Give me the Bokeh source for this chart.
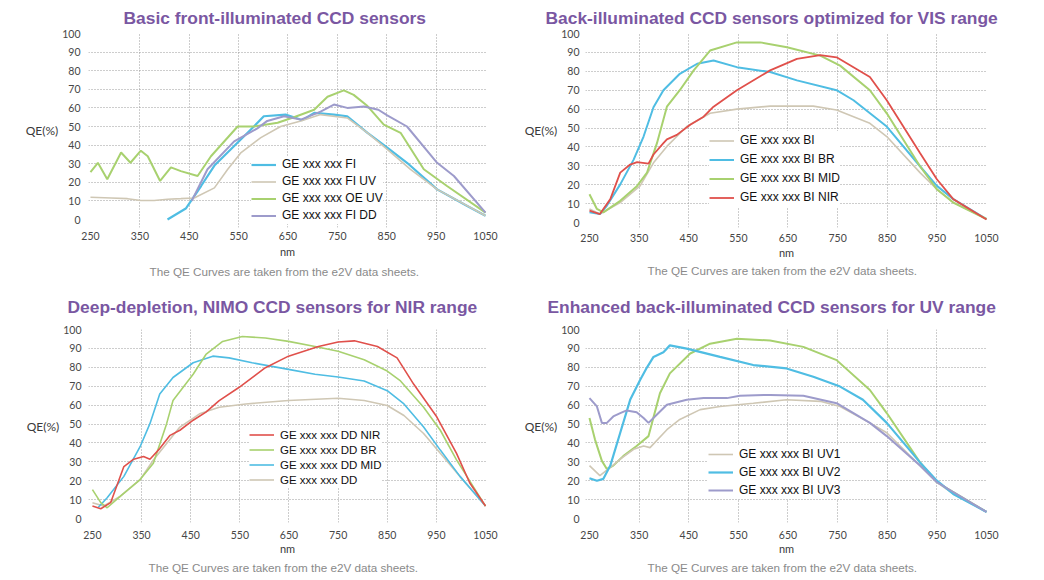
from bokeh.plotting import figure
from bokeh.layouts import gridplot
from bokeh.models import FixedTicker, Legend, LegendItem, Range1d, Title
from bokeh.embed import file_html
from bokeh.resources import INLINE

# ---------------- data ----------------
x_ticks = [250, 350, 450, 550, 650, 750, 850, 950, 1050]
y_ticks = [0, 10, 20, 30, 40, 50, 60, 70, 80, 90, 100]
grid_x = [350, 450, 550, 650, 750, 850, 950]
grid_y = [10, 20, 30, 40, 50, 60, 70, 80, 90]

titles = ["Basic front-illuminated CCD sensors",
          "Back-illuminated CCD sensors optimized for VIS range",
          "Deep-depletion, NIMO CCD sensors for NIR range",
          "Enhanced back-illuminated CCD sensors for UV range"]
caption = "The QE Curves are taken from the e2V data sheets."

# Panel 1: front-illuminated
fi_nm = [406, 443, 474, 501, 541, 581, 601, 645, 662, 679, 703, 743, 770, 811, 851, 891, 952, 1013, 1050]
fi_qe = [0, 5.9, 18, 29, 39.5, 50, 55.5, 56.4, 55, 53.4, 57.3, 56.4, 55.5, 46.6, 38.6, 30.5, 16.2, 7.3, 2]
fiuv_nm = [250, 292, 325, 352, 379, 406, 433, 460, 501, 528, 555, 595, 635, 676, 716, 770, 811, 851, 898, 952, 1050]
fiuv_qe = [12, 11.6, 11.2, 10.2, 10.2, 10.9, 11.2, 11.6, 17, 27, 36, 44, 50, 53, 56.4, 54.6, 46.6, 37.7, 27, 16.2, 2]
oeuv_nm = [250, 265, 284, 312, 331, 352, 366, 391, 413, 433, 467, 494, 548, 581, 629, 662, 703, 730, 763, 783, 811, 844, 878, 925, 972, 1050]
oeuv_qe = [25.5, 30.5, 21.6, 36, 30.5, 37, 34, 20.7, 28, 26, 23.4, 34, 50, 50, 52, 55, 59, 66, 69.4, 67, 61, 51, 46.6, 27, 18, 3.7]
fidd_nm = [455, 487, 541, 588, 608, 642, 676, 716, 743, 770, 804, 833, 851, 891, 952, 986, 1050]
fidd_qe = [10, 27, 42, 49, 53, 55.5, 53.7, 58, 61.8, 60, 60.8, 59, 56, 50, 30.5, 23.4, 3.7]

# Panel 2: back-illuminated VIS
bi_nm = [250, 271, 312, 352, 379, 406, 446, 493, 547, 614, 701, 748, 815, 849, 916, 950, 983, 1050]
bi_qe = [7.2, 4.5, 10.6, 19.4, 31.6, 40.3, 50.8, 57.8, 60, 61.6, 61.6, 59.5, 52.5, 45.5, 26.4, 17.6, 10.6, 1.9]
bibr_nm = [250, 271, 285, 312, 339, 359, 379, 399, 432, 467, 500, 547, 614, 668, 748, 782, 849, 916, 950, 983, 1050]
bibr_qe = [5.4, 4.5, 8.9, 20.2, 33.3, 45.5, 61, 70, 78.7, 84, 85.7, 82.2, 79.6, 75.2, 70, 64.7, 50.8, 29.8, 19.4, 12.4, 1.9]
bimid_nm = [250, 265, 278, 312, 346, 366, 386, 406, 432, 460, 493, 547, 594, 648, 715, 755, 815, 849, 916, 950, 983, 1050]
bimid_qe = [15, 7.2, 5.4, 11.5, 19.4, 26.4, 42, 61.3, 70, 80.5, 91, 95.3, 95.3, 92.7, 88.3, 83, 70, 57.8, 29.8, 17.6, 10.6, 1.9]
binir_nm = [250, 271, 292, 312, 332, 346, 369, 379, 399, 406, 426, 453, 480, 500, 547, 614, 668, 715, 748, 815, 849, 916, 950, 983, 1050]
binir_qe = [6.3, 4.5, 12.4, 26.4, 30.7, 32, 31.2, 36, 42, 44, 46.4, 51.7, 56, 61.3, 70, 80.5, 86.6, 88.6, 87.4, 77, 64.7, 36.8, 22.9, 12.4, 1.6]

# Panel 3: deep depletion
ddnir_nm = [250, 267, 287, 314, 334, 354, 367, 387, 408, 428, 455, 481, 508, 548, 602, 649, 710, 750, 783, 830, 870, 904, 951, 991, 1018, 1050]
ddnir_qe = [6.6, 5.2, 8.4, 27.5, 31.4, 32.8, 31.4, 37, 44, 46.7, 52, 56.3, 62.4, 69.3, 79.8, 85.9, 91, 93.4, 94, 91, 85, 71, 53.7, 34.5, 18.8, 6.6]
ddbr_nm = [250, 267, 280, 307, 347, 374, 401, 414, 455, 481, 515, 555, 602, 649, 703, 750, 803, 850, 877, 924, 958, 991, 1050]
ddbr_qe = [15.3, 8.4, 5.7, 11.8, 20.6, 29.3, 50.2, 62.4, 76.3, 86.8, 93.7, 96.3, 95.5, 93.7, 91, 88.5, 84, 78, 72.8, 58.9, 46.7, 31, 6.6]
ddmid_nm = [262, 280, 314, 347, 367, 387, 414, 455, 495, 528, 575, 649, 703, 750, 803, 850, 884, 924, 958, 998, 1050]
ddmid_qe = [6, 11, 22.3, 38, 50.2, 65.9, 74.6, 82.4, 85.9, 85, 82.4, 78.9, 76.3, 74.9, 72.8, 67.6, 60.6, 48.4, 36.2, 22.3, 6.6]
dd_nm = [250, 273, 307, 347, 374, 401, 428, 468, 508, 562, 649, 750, 803, 850, 884, 924, 958, 998, 1050]
dd_qe = [8.4, 6.6, 11.8, 20.6, 31, 39.7, 48.4, 55.4, 58.9, 60.6, 62.4, 63.6, 62.4, 59.8, 54.5, 45, 34.5, 22.3, 6.6]

# Panel 4: UV enhanced
uv1_nm = [250, 271, 292, 312, 339, 359, 372, 406, 432, 473, 513, 580, 647, 715, 755, 815, 849, 916, 950, 983, 1050]
uv1_qe = [28, 22.7, 27, 31.4, 36.6, 38.4, 37.5, 47, 52.4, 57.6, 59.3, 61, 62.8, 62, 59.3, 50.6, 45.4, 28, 19.2, 13, 3.5]
uv2_nm = [250, 265, 278, 292, 312, 332, 352, 366, 379, 399, 412, 446, 513, 580, 647, 701, 755, 801, 849, 916, 950, 983, 1050]
uv2_qe = [21.3, 20, 21, 28, 45.4, 62.8, 73.3, 80, 85.5, 88, 91.6, 89.9, 85.5, 81.2, 79.4, 75, 69.8, 62.8, 50.6, 29.7, 20, 13, 3.5]
uvg_nm = [250, 261, 275, 285, 298, 318, 345, 369, 376, 392, 412, 453, 493, 547, 614, 681, 748, 815, 849, 916, 950, 1050]
uvg_qe = [53.2, 41.9, 30.5, 26.2, 28, 33, 38.4, 43.6, 50.6, 66.3, 76.8, 87.3, 92.5, 95.1, 94.2, 90.8, 83.8, 68, 55.8, 29.7, 19.2, 3.5]
uv3_nm = [250, 265, 275, 285, 298, 312, 325, 345, 359, 369, 386, 406, 446, 480, 527, 553, 614, 681, 748, 815, 849, 916, 950, 1050]
uv3_qe = [63.7, 59.3, 50.6, 50.6, 54, 55.8, 57.2, 56.2, 53.2, 50.6, 55, 60.2, 62.8, 63.7, 63.7, 65, 65.4, 65, 61, 50.6, 43.6, 28, 19.2, 3.5]

# ---------------- style ----------------
BLUE = "#4FBDE3"
TAN = "#CFC7B4"
GREEN = "#A8D16F"
PURPLE = "#9D9BCB"
RED = "#E0504B"
TITLE_C = "#7A57A2"
TICK_FONT = "Lato"
TEXT_FONT = "Liberation Sans"


def panel(ox, oy, W, H, fl, fr, ft, fb, xr, yr, title, title_left,
          tick_cy, nm_cy, cap_left, cap_cy, series, leg_order, leg_x, leg_c1, leg_sp,
          leg_font, ystand):
    p = figure(width=W, height=H, x_range=Range1d(*xr), y_range=Range1d(*yr),
               output_backend="svg", toolbar_location=None,
               min_border_left=fl - ox, min_border_right=ox + W - fr,
               min_border_top=ft - oy, min_border_bottom=oy + H - fb)
    p.outline_line_color = None
    p.background_fill_color = "white"
    p.border_fill_color = "white"
    xstand = int(round(tick_cy - fb - 6.5))
    for ax, t, st in ((p.xaxis, x_ticks, xstand), (p.yaxis, y_ticks, ystand)):
        ax.ticker = FixedTicker(ticks=t)
        ax.axis_line_color = None
        ax.major_tick_line_color = None
        ax.minor_tick_line_color = None
        ax.major_tick_out = 0
        ax.major_tick_in = 0
        ax.major_label_text_font = TICK_FONT
        ax.major_label_text_font_size = "10.5px"
        ax.major_label_text_color = "#474747"
        ax.major_label_standoff = st
        ax.axis_label_text_font = TICK_FONT
        ax.axis_label_text_color = "#3a3a3a"
        ax.axis_label_text_font_style = "normal"
    p.xaxis.axis_label = "nm"
    p.xaxis.axis_label_text_font_size = "11px"
    p.xaxis.axis_label_standoff = max(0, int(round(nm_cy - tick_cy - 13)))
    p.yaxis.axis_label = "QE(%)"
    p.yaxis.axis_label_text_font_size = "12px"
    p.yaxis.axis_label_standoff = 1
    try:
        p.yaxis[0].axis_label_orientation = "horizontal"
    except Exception:
        pass

    p.xgrid.ticker = FixedTicker(ticks=grid_x)
    p.ygrid.ticker = FixedTicker(ticks=grid_y)
    for g in (p.xgrid, p.ygrid):
        g.grid_line_color = "#9a9a9a"
        g.grid_line_dash = "1 2"
        g.grid_line_width = 1

    rends = []
    for (nm, qe, col, lab, lw) in series:
        r = p.line(nm, qe, line_color=col, line_width=lw)
        rends.append((lab, r))
    items = [LegendItem(label=rends[i][0], renderers=[rends[i][1]]) for i in leg_order]

    n = len(items)
    top = leg_c1 - leg_sp / 2
    bottom = top + n * leg_sp
    leg = Legend(items=items, location=(leg_x - fl, fb - bottom),
                 padding=0, margin=0, spacing=0,
                 glyph_width=25, glyph_height=int(round(leg_sp)),
                 label_height=int(round(leg_sp)), label_standoff=6,
                 label_text_font=TEXT_FONT, label_text_font_size=leg_font,
                 label_text_color="#111111",
                 background_fill_color="white", background_fill_alpha=1,
                 border_line_alpha=0)
    p.add_layout(leg)

    # title above, vertically centred in the top border
    p.title.text = title
    p.title.align = "left"
    p.title.vertical_align = "middle"
    p.title.text_font = TEXT_FONT
    p.title.text_font_size = "17.4px"
    p.title.text_font_style = "bold"
    p.title.text_color = TITLE_C
    p.title.standoff = max(0, (ft - oy) - 23)
    p.title.offset = title_left - fl

    # caption below
    nm_bottom = nm_cy + 6.5
    cap = Title(text=caption, align="left", text_font=TEXT_FONT,
                text_font_size="11.7px", text_font_style="normal",
                text_color="#8a8a8a",
                standoff=max(0, int(round(cap_cy - 6.5 - nm_bottom))),
                offset=cap_left - fl)
    p.add_layout(cap, "below")
    return p


ROW1 = 282
ROW2 = 578 - ROW1

p1 = panel(0, 0, 520, ROW1, 87, 486, 32, 227, (246, 1052), (-4.3, 100),
           titles[0], 122, 237, 252, 148, 270,
           [(fi_nm, fi_qe, BLUE, "GE xxx xxx FI", 2.2),
            (fiuv_nm, fiuv_qe, TAN, "GE xxx xxx FI UV", 1.6),
            (oeuv_nm, oeuv_qe, GREEN, "GE xxx xxx OE UV", 2),
            (fidd_nm, fidd_qe, PURPLE, "GE xxx xxx FI DD", 2)],
           [0, 1, 2, 3], 250, 164, 17, "12px", 8)

p2 = panel(520, 0, 520, ROW1, 585, 988, 33, 228, (242, 1052), (-2.6, 100),
           titles[1], 545, 241, 255, 647, 269,
           [(bi_nm, bi_qe, TAN, "GE xxx xxx BI", 1.6),
            (bibr_nm, bibr_qe, BLUE, "GE xxx xxx BI BR", 2),
            (bimid_nm, bimid_qe, GREEN, "GE xxx xxx BI MID", 2),
            (binir_nm, binir_qe, RED, "GE xxx xxx BI NIR", 1.8)],
           [0, 1, 2, 3], 709, 141, 19, "12px", 6)

p3 = panel(0, ROW1, 520, ROW2, 88, 490, 328, 522, (242, 1052), (-2.1, 100),
           titles[2], 67, 536, 549, 148, 565,
           [(dd_nm, dd_qe, TAN, "GE xxx xxx DD", 1.6),
            (ddmid_nm, ddmid_qe, BLUE, "GE xxx xxx DD MID", 1.6),
            (ddbr_nm, ddbr_qe, GREEN, "GE xxx xxx DD BR", 1.6),
            (ddnir_nm, ddnir_qe, RED, "GE xxx xxx DD NIR", 1.6)],
           [3, 2, 1, 0], 249, 436, 14.7, "11.5px", 7)

p4 = panel(520, ROW1, 520, ROW2, 585, 987, 329, 523, (242, 1052), (-2.1, 100),
           titles[3], 547, 537, 550, 647, 566,
           [(uvg_nm, uvg_qe, GREEN, None, 2),
            (uv1_nm, uv1_qe, TAN, "GE xxx xxx BI UV1", 1.6),
            (uv2_nm, uv2_qe, BLUE, "GE xxx xxx BI UV2", 2.2),
            (uv3_nm, uv3_qe, PURPLE, "GE xxx xxx BI UV3", 2)],
           [1, 2, 3], 708, 454, 18.5, "12px", 6)

grid = gridplot([[p1, p2], [p3, p4]], toolbar_location=None)
open("out.html", "w").write(file_html(grid, INLINE))
